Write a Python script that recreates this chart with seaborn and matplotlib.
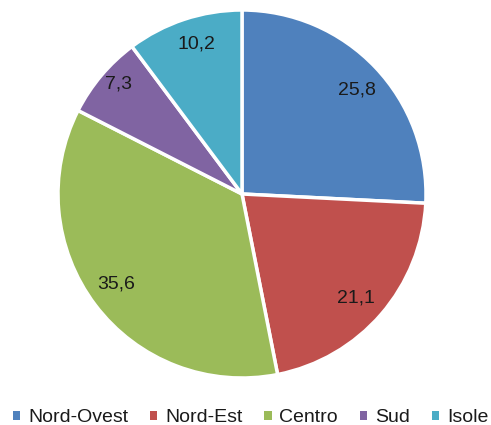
import matplotlib
matplotlib.use("Agg")
import matplotlib.pyplot as plt
import seaborn as sns
import numpy as np
from matplotlib.patches import Patch

categories = ["Nord-Ovest", "Nord-Est", "Centro", "Sud", "Isole"]
values = [25.8, 21.1, 35.6, 7.3, 10.2]
labels = ["25,8", "21,1", "35,6", "7,3", "10,2"]
colors_hex = ["#4F81BD", "#C0504D", "#9BBB59", "#8064A2", "#4BACC6"]
label_dist = [0.84, 0.84, 0.84, 0.90, 0.85]

sns.set_theme(style="white")
plt.rcParams["font.family"] = ["Liberation Sans", "DejaVu Sans"]
palette = sns.color_palette(colors_hex)

W, H = 491, 425
fig = plt.figure(figsize=(W / 100, H / 100), dpi=100)
cx, cy, r = 242, 194, 184
ax = fig.add_axes([(cx - r) / W, (H - cy - r) / H, 2 * r / W, 2 * r / H])

wedges, _ = ax.pie(
    values,
    colors=palette,
    startangle=90,
    counterclock=False,
    radius=1,
    wedgeprops=dict(edgecolor="white", linewidth=2.5),
)
for w, lab, d in zip(wedges, labels, label_dist):
    ang = np.deg2rad((w.theta1 + w.theta2) / 2 - 1.5)
    ax.text(d * np.cos(ang), d * np.sin(ang), lab, fontsize=14,
            color="#1a1a1a", ha="center", va="center")
ax.set_xlim(-1.0, 1.0)
ax.set_ylim(-1.0, 1.0)
ax.set_aspect("equal")
ax.axis("off")

handles = [Patch(facecolor=c, edgecolor="none") for c in palette]
fig.legend(
    handles, categories, loc="center", ncol=5,
    bbox_to_anchor=(250.5 / W, 1 - 418 / H),
    frameon=False, fontsize=14, labelcolor="#1a1a1a",
    handlelength=0.38, handleheight=0.38, handletextpad=0.4,
    columnspacing=1.12, borderaxespad=0, borderpad=0,
)

fig.savefig("out.png", dpi=100, facecolor="white")
